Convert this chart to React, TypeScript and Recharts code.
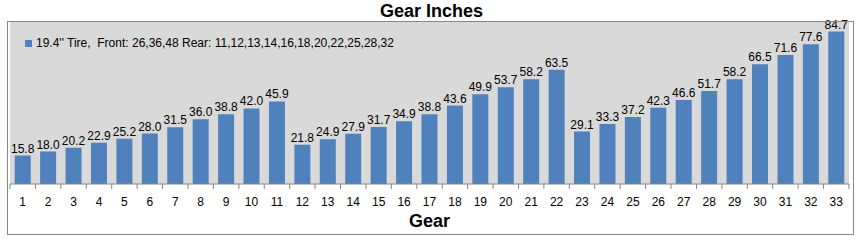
import React from "react";
import { BarChart, Bar, XAxis, YAxis, CartesianGrid, LabelList } from "recharts";

const gears = Array.from({ length: 33 }, (_, i) => String(i + 1));
const gearInches = [
  15.8, 18.0, 20.2, 22.9, 25.2, 28.0, 31.5, 36.0, 38.8, 42.0, 45.9,
  21.8, 24.9, 27.9, 31.7, 34.9, 38.8, 43.6, 49.9, 53.7, 58.2, 63.5,
  29.1, 33.3, 37.2, 42.3, 46.6, 51.7, 58.2, 66.5, 71.6, 77.6, 84.7,
];
const seriesName = "19.4'' Tire,  Front: 26,36,48 Rear: 11,12,13,14,16,18,20,22,25,28,32";

const data = gears.map((g, i) => ({ gear: g, value: gearInches[i] }));

const W = 863;
const H = 243;
const MARGIN = { top: 22, right: 14, bottom: 19, left: 10 };
const FONT = "'Liberation Sans', Arial, sans-serif";

const GearTick = (props: any) => {
  const { x, y, payload, index } = props;
  const band = (W - MARGIN.left - MARGIN.right) / gears.length;
  return (
    <g>
      <line x1={x - band / 2} x2={x - band / 2} y1={y - 8} y2={y - 3} stroke="#868686" />
      {index === gears.length - 1 && (
        <line x1={x + band / 2} x2={x + band / 2} y1={y - 8} y2={y - 3} stroke="#868686" />
      )}
      <text x={x} y={y + 14} textAnchor="middle" fontSize={12} fill="#000" fontFamily={FONT}>
        {payload.value}
      </text>
    </g>
  );
};

export default function App() {
  return (
    <div style={{ position: "absolute", left: 0, top: 0, width: W, height: H, background: "#fff" }}>
      <div
        style={{
          position: "absolute", left: 0, top: 1, width: W, textAlign: "center",
          fontFamily: FONT, fontWeight: "bold", fontSize: 18, color: "#000",
        }}
      >
        Gear Inches
      </div>
      <div style={{ position: "absolute", left: 0, top: 0 }}>
        <BarChart width={W} height={H} data={data} margin={MARGIN} barCategoryGap="18.5%">
          <CartesianGrid fill="#d9d9d9" stroke="none" horizontal={false} vertical={false} />
          <XAxis
            dataKey="gear"
            height={40}
            tickLine={false}
            axisLine={{ stroke: "#868686" }}
            interval={0}
            tick={<GearTick />}
            label={{
              value: "Gear", position: "insideBottom", offset: -3,
              style: { fontFamily: FONT, fontWeight: "bold", fontSize: 18, fill: "#000" },
            }}
          />
          <YAxis hide domain={[0, 90]} allowDataOverflow />
          <Bar dataKey="value" name={seriesName} fill="#4f81bd" isAnimationActive={false}>
            <LabelList
              dataKey="value"
              position="top"
              offset={3}
              formatter={(v: number) => v.toFixed(1)}
              style={{ fontFamily: FONT, fontSize: 12, fill: "#000" }}
            />
          </Bar>
        </BarChart>
      </div>
      <div
        style={{
          position: "absolute", left: 7, top: 21, width: 845, height: 212,
          border: "1px solid #868686", pointerEvents: "none",
        }}
      />
      <div
        style={{
          position: "absolute", left: 25, top: 36, display: "flex", alignItems: "center",
          fontFamily: FONT, fontSize: 12, color: "#000",
        }}
      >
        <span style={{ width: 7, height: 7, background: "#4f81bd", marginRight: 4, display: "inline-block" }} />
        <span style={{ whiteSpace: "pre" }}>{seriesName}</span>
      </div>
    </div>
  );
}
